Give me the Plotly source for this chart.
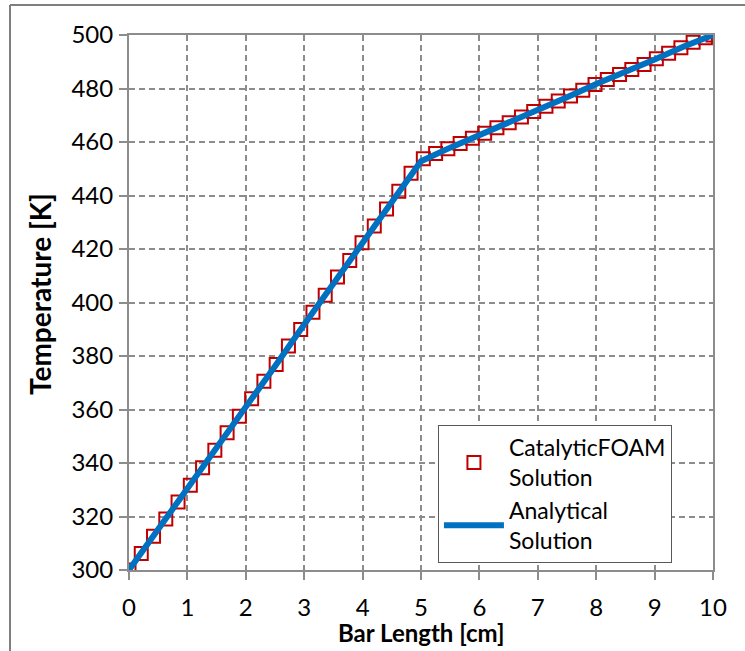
import plotly.graph_objects as go

# ---- data ----
x_foam = [0, 0.21, 0.42, 0.63, 0.84, 1.05, 1.26, 1.47, 1.68, 1.89, 2.10, 2.31, 2.52, 2.73,
          2.94, 3.15, 3.36, 3.57, 3.78, 3.99, 4.20, 4.41, 4.62, 4.83, 5.04, 5.25, 5.46, 5.67,
          5.88, 6.09, 6.30, 6.51, 6.72, 6.93, 7.14, 7.35, 7.56, 7.77, 7.98, 8.19, 8.40, 8.61,
          8.82, 9.03, 9.24, 9.45, 9.66, 9.87, 10.0]
t_foam = [300, 306.2, 312.6, 319.1, 325.4, 331.7, 338.2, 344.8, 351.3, 357.5, 364.0, 370.6,
          376.8, 383.7, 389.9, 396.4, 402.7, 409.5, 415.7, 422.3, 428.6, 435.0, 441.6, 448.3,
          453.7, 455.7, 457.5, 459.4, 461.4, 463.3, 465.3, 467.2, 469.3, 471.4, 473.4, 475.3,
          477.2, 479.3, 481.5, 483.4, 485.2, 487.1, 489.0, 491.1, 493.2, 495.2, 497.3, 499.0, 500]

x_analytical = [0, 0.5, 1, 1.5, 2, 2.5, 3, 3.5, 4, 4.5, 5, 5.5, 6, 6.5, 7, 7.5, 8, 8.5, 9, 9.5, 10]
t_analytical = [300, 315.1, 330.2, 345.7, 360.9, 376.2, 391.8, 407.2, 422.6, 437.8, 452.8,
                457.9, 462.5, 467.1, 472.1, 476.7, 481.7, 486.1, 490.8, 495.7, 500]

x_ticks = [0, 1, 2, 3, 4, 5, 6, 7, 8, 9, 10]
y_ticks = [300, 320, 340, 360, 380, 400, 420, 440, 460, 480, 500]

series_names = ["CatalyticFOAM<br>Solution", "Analytical<br>Solution"]
x_title = "Bar Length [cm]"
y_title = "Temperature [K]"

FONT = "Lato"
GRID = "#8c8c8c"

fig = go.Figure()
fig.add_trace(go.Scatter(
    x=x_foam, y=t_foam, mode="markers", name=series_names[0],
    marker=dict(symbol="square-open", size=13, color="#C00000", line=dict(width=2, color="#C00000")),
))
fig.add_trace(go.Scatter(
    x=x_analytical, y=t_analytical, mode="lines", name=series_names[1],
    line=dict(color="#0070C0", width=6),
))

axis_common = dict(
    showgrid=True, gridcolor=GRID, gridwidth=1.5, griddash="6px,4px",
    showline=True, linecolor=GRID, linewidth=2, mirror=True,
    ticks="outside", ticklen=8, tickwidth=2, tickcolor=GRID,
    tickfont=dict(family=FONT, size=24, color="black"),
    zeroline=False,
)

fig.update_xaxes(
    range=[0, 10], tickvals=x_ticks, ticktext=[str(v) for v in x_ticks],
    ticklabelstandoff=7,
    **axis_common,
)
fig.update_yaxes(
    range=[300, 500], tickvals=y_ticks, ticktext=[str(v) for v in y_ticks],
    ticklabelstandoff=1,
    **axis_common,
)

fig.update_layout(
    width=745, height=651,
    margin=dict(l=129, r=32, t=35, b=81),
    paper_bgcolor="white", plot_bgcolor="white",
    font=dict(family=FONT, color="black"),
    legend=dict(
        x=0.529, y=0.271, xanchor="left", yanchor="top",
        bgcolor="white", bordercolor="#595959", borderwidth=1,
        font=dict(family=FONT, size=23, color="black"),
        itemwidth=60, tracegroupgap=0,
    ),
    annotations=[
        dict(text="<b>" + y_title + "</b>", textangle=-90, showarrow=False,
             xref="paper", yref="paper", x=-89/584, y=(570-294)/535,
             xanchor="center", yanchor="middle",
             font=dict(family=FONT, size=28, color="black")),
        dict(text="<b>" + x_title + "</b>", showarrow=False,
             xref="paper", yref="paper", x=0.5, y=(570-632)/535,
             xanchor="center", yanchor="middle",
             font=dict(family=FONT, size=24, color="black")),
    ],
    shapes=[
        dict(type="line", xref="paper", yref="paper",
             x0=-119/584, x1=1.2, y0=(651-81-5)/535, y1=(651-81-5)/535,
             line=dict(color="#7f7f7f", width=2)),
        dict(type="line", xref="paper", yref="paper",
             x0=-119/584, x1=-119/584, y0=(651-81-5)/535, y1=-0.2,
             line=dict(color="#7f7f7f", width=2)),
    ],
)

fig.write_html("out.html")
